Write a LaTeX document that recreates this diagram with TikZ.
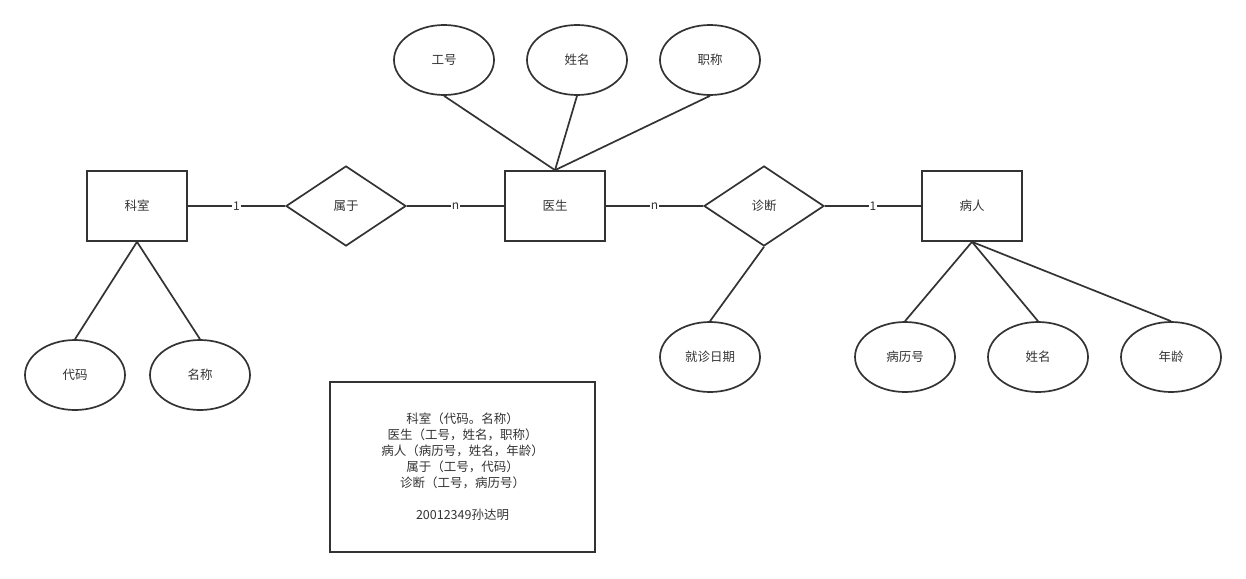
\documentclass[tikz,border=0pt]{standalone}
\usepackage{fontspec}
\newfontfamily\cjk{Noto Sans CJK SC}
\usetikzlibrary{shapes.geometric}
\definecolor{ink}{HTML}{333333}
\begin{document}
\begin{tikzpicture}[x=1pt,y=-1pt,
  every node/.style={font=\cjk\fontsize{12.5}{14}\selectfont, text=ink},
  entity/.style={draw=ink, line width=1.7pt, minimum width=100pt, minimum height=70pt, inner sep=0pt},
  relation/.style={draw=ink, line width=1.7pt, diamond, aspect=1.5, minimum width=120pt, minimum height=80pt, inner sep=0pt},
  attr/.style={draw=ink, line width=1.7pt, ellipse, minimum width=100pt, minimum height=70pt, inner sep=0pt},
  link/.style={draw=ink, line width=1.7pt},
  card/.style={fill=white, inner sep=1pt, font=\cjk\fontsize{12}{13}\selectfont}]
\useasboundingbox (0,0) rectangle (1246,578);

% entities and relationships
\node[entity] (ks) at (137,206) {科室};
\node[relation] (sy) at (346,206) {属于};
\node[entity] (ys) at (555,206) {医生};
\node[relation] (zd) at (764,206) {诊断};
\node[entity] (br) at (972,206) {病人};

% attributes
\node[attr] (gh) at (444,60) {工号};
\node[attr] (xm) at (577,60) {姓名};
\node[attr] (zc) at (710,60) {职称};
\node[attr] (dm) at (75,375) {代码};
\node[attr] (mc) at (200,375) {名称};
\node[attr] (jzrq) at (710,357) {就诊日期};
\node[attr] (blh) at (905,357) {病历号};
\node[attr] (xm2) at (1038,357) {姓名};
\node[attr] (nl) at (1171,357) {年龄};

% relationship lines with cardinalities
\draw[link] (ks.east) -- node[card] {1} (sy.west);
\draw[link] (sy.east) -- node[card] {n} (ys.west);
\draw[link] (ys.east) -- node[card] {n} (zd.west);
\draw[link] (zd.east) -- node[card] {1} (br.west);

% attribute lines
\draw[link] (gh.south) -- (ys.north);
\draw[link] (xm.south) -- (ys.north);
\draw[link] (zc.south) -- (ys.north);
\draw[link] (ks.south) -- (dm.north);
\draw[link] (ks.south) -- (mc.north);
\draw[link] (zd.south) -- (jzrq.north);
\draw[link] (br.south) -- (blh.north);
\draw[link] (br.south) -- (xm2.north);
\draw[link] (br.south) -- (nl.north);

% relational schema
\node[draw=ink, line width=1.7pt, minimum width=265pt, minimum height=170pt, inner sep=0pt, align=center,
      font=\cjk\fontsize{12.5}{16}\selectfont] (schema) at (462.5,467)
  {科室（代码。名称）\\医生（工号，姓名，职称）\\病人（病历号，姓名，年龄）\\属于（工号，代码）\\诊断（工号，病历号）\\[16pt]20012349孙达明};
\end{tikzpicture}
\end{document}
